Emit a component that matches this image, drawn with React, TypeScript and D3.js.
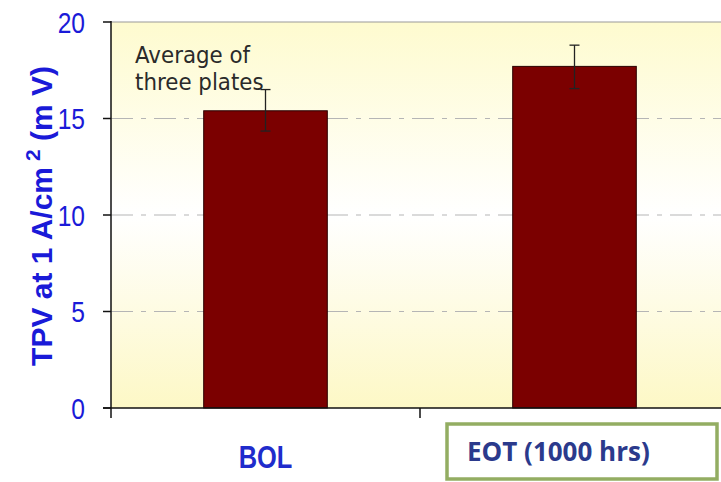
import React from "react";
import * as d3 from "d3";

const categories = ["BOL", "EOT (1000 hrs)"];
const values = [15.4, 17.7];
const errLow = [14.35, 16.55];
const errHigh = [16.5, 18.8];
const yTicks = [0, 5, 10, 15, 20];
const gridTicks = [5, 10, 15];
const annotation = ["Average of", "three plates"];

const W = 721;
const H = 482;
const left = 111;
const top = 22;
const bottom = 408;
const rightEnd = 729;

export default function App() {
  const x = d3.scaleBand<string>().domain(categories).range([left, rightEnd]).paddingInner(0.6).paddingOuter(0.3);
  const band = d3.scaleBand<string>().domain(categories).range([left, rightEnd]).padding(0);
  const y = d3.scaleLinear().domain([0, 20]).range([bottom, top]);
  const blue = "#1a1ad8";

  return (
    <svg width={W} height={H} style={{ position: "absolute", left: 0, top: 0, background: "#fff" }}>
      <defs>
        <linearGradient id="bg" x1="0" y1="0" x2="0" y2="1">
          <stop offset="0" stopColor="#fefbcf" />
          <stop offset="0.5" stopColor="#ffffff" />
          <stop offset="1" stopColor="#fdf8c6" />
        </linearGradient>
      </defs>
      <rect x={left} y={top} width={W - left} height={bottom - top} fill="url(#bg)" />
      <line x1={left} x2={W} y1={top} y2={top} stroke="#999" strokeWidth={1.2} />
      {gridTicks.map((t) => (
        <line key={t} x1={left} x2={W} y1={y(t)} y2={y(t)} stroke="#b5b5b5" strokeWidth={1.2} strokeDasharray="22 8 5 8" />
      ))}
      {annotation.map((s, i) => (
        <text key={i} transform={`translate(135,${63 + i * 27}) scale(0.93,1)`} fontFamily="DejaVu Sans, Verdana, sans-serif" fontSize={23} fill="#2a2a2a">
          {s}
        </text>
      ))}
      {categories.map((c, i) => {
        const bx = x(c)!;
        const cx = bx + x.bandwidth() / 2;
        return (
          <g key={c}>
            <rect x={bx} y={y(values[i])} width={x.bandwidth()} height={bottom - y(values[i])} fill="#7b0000" stroke="#2a0000" strokeWidth={1} />
            <line x1={cx} x2={cx} y1={y(errLow[i])} y2={y(errHigh[i])} stroke="#222" strokeWidth={1.3} />
            <line x1={cx - 5} x2={cx + 5} y1={y(errHigh[i])} y2={y(errHigh[i])} stroke="#222" strokeWidth={1.3} />
            <line x1={cx - 5} x2={cx + 5} y1={y(errLow[i])} y2={y(errLow[i])} stroke="#222" strokeWidth={1.3} />
          </g>
        );
      })}
      <line x1={left} x2={left} y1={top - 1} y2={bottom + 10} stroke="#111" strokeWidth={1.5} />
      <line x1={left - 8} x2={W} y1={bottom} y2={bottom} stroke="#111" strokeWidth={1.5} />
      {categories.map((c, i) => (
        i > 0 ? <line key={c} x1={band(c)!} x2={band(c)!} y1={bottom} y2={bottom + 10} stroke="#111" strokeWidth={1.5} /> : null
      ))}
      {yTicks.map((t) => (
        <g key={t}>
          <line x1={left - 8} x2={left} y1={y(t)} y2={y(t)} stroke="#111" strokeWidth={1.5} />
          <text transform={`translate(85,${y(t)}) scale(0.82,1)`} dy="0.36em" textAnchor="end" fontFamily="Liberation Sans, Arial, sans-serif" fontSize={30} fill={blue}>
            {t}
          </text>
        </g>
      ))}
      <text transform={`translate(52,${(top + bottom) / 2 + 1}) rotate(-90)`} textAnchor="middle" fontFamily="Liberation Sans, Arial, sans-serif" fontWeight="bold" fontSize={30} fill={blue}>
        TPV at 1 A/cm<tspan dy="-12" fontSize={21}> 2</tspan><tspan dy="12"> (m V)</tspan>
      </text>
      <text transform={`translate(${x(categories[0])! + x.bandwidth() / 2},468) scale(0.82,1)`} textAnchor="middle" fontFamily="Liberation Sans, Arial, sans-serif" fontWeight="bold" fontSize={31} fill="#1f2ccc">
        {categories[0]}
      </text>
      <rect x={447} y={424} width={270} height={55} fill="#fff" stroke="#93ad62" strokeWidth={3.5} />
      <text x={467} y={461} fontFamily="Open Sans, Noto Sans, sans-serif" fontWeight="bold" fontSize={26} fill="#2b3a8c">
        {categories[1]}
      </text>
    </svg>
  );
}
